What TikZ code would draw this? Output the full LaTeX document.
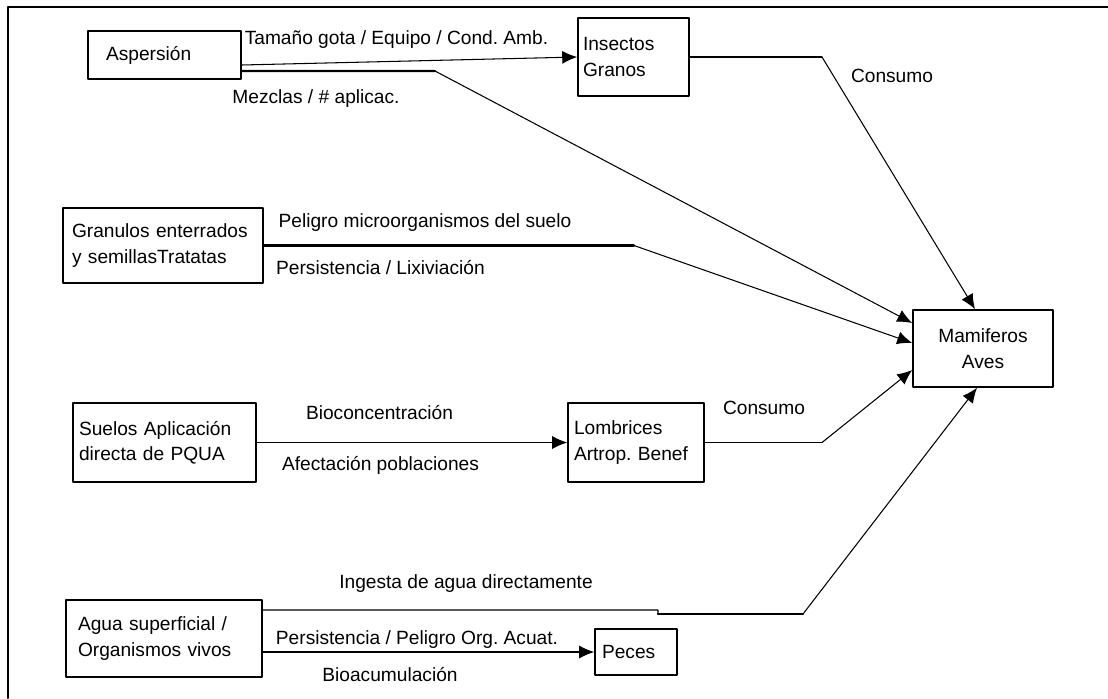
\documentclass[tikz,border=0pt]{standalone}
\usepackage{fontspec}
\setmainfont{Liberation Sans}
\usetikzlibrary{arrows.meta}
\frenchspacing

\begin{document}
\begin{tikzpicture}[line cap=round,line join=round,x=0.02cm,y=-0.02cm,
  caja/.style={draw,line width=0.9pt,inner ysep=0pt,align=left,font=\fontsize{10.9}{14.4}\selectfont},
  rotulo/.style={inner sep=0pt,font=\fontsize{10.9}{13}\selectfont},
  flecha/.style={line width=0.6pt,-{Latex[length=0.3cm,width=0.26cm]}},
  grueso/.style={line width=1.3pt}]
\useasboundingbox (0,0) rectangle (1108,698);
%\draw [help lines] (0,0) grid[step=50] (1108,698);
\draw [line width=1.1pt] (8,698) -- (8,7) -- (1108,7);
% cajas
\node[caja,minimum height=0.96cm,inner xsep=0.36cm,text width=2.34cm] (asp) at (164.5,55) {Aspersión};
\node[caja,minimum height=1.56cm,inner xsep=0.1cm,text width=2.02cm] (ins) at (633.5,57) {Insectos\\Granos};
\node[caja,minimum height=1.5cm,inner xsep=0.18cm,text width=3.64cm] (gra) at (163,245.5) {Granulos enterrados\\y semillasTratatas};
\node[caja,minimum height=1.58cm,inner xsep=0.12cm,text width=3.42cm] (sue) at (164.5,442.5) {Suelos Aplicación\\directa de PQUA};
\node[caja,minimum height=1.58cm,inner xsep=0.12cm,text width=2.48cm] (lom) at (636,442.5) {Lombrices\\Artrop. Benef};
\node[caja,minimum height=1.54cm,inner xsep=0.12cm,text width=2.56cm,align=center] (mam) at (983,348.5) {Mamiferos\\Aves};
\node[caja,minimum height=1.54cm,inner xsep=0.24cm,text width=3.44cm] (agu) at (164,638.5) {Agua superficial /\\Organismos vivos};
\node[caja,minimum height=0.92cm,inner xsep=0.14cm,text width=1.36cm] (pec) at (636,652) {Peces};
% quiebres
\coordinate (q1) at (435,71);
\coordinate (q2) at (822,57);
\coordinate (q3) at (634,245.5);
\coordinate (q4) at (822,442.5);
\coordinate (q5) at (658,610);
\coordinate (q6) at (658,614);
\coordinate (q7) at (803,614);
% conexiones
\draw [flecha] ([yshift=-0.2cm]asp.east) -- (ins.west);
\draw [grueso] ([yshift=-0.32cm]asp.east) -- (q1);
\draw [flecha] (q1) -- ([yshift=0.51cm]mam.west);
\draw [line width=0.6pt] (ins.east) -- (q2);
\draw [flecha] (q2) -- ([xshift=-0.16cm]mam.north);
\draw [grueso] (gra.east) -- (q3);
\draw [flecha] (q3) -- ([yshift=0.11cm]mam.west);
\draw [flecha] (sue.east) -- (lom.west);
\draw [line width=0.6pt] (lom.east) -- (q4);
\draw [flecha] (q4) -- ([yshift=-0.43cm]mam.west);
\draw [line width=0.6pt] ([yshift=0.57cm]agu.east) -- (q5) -- (q6);
\draw [grueso] (q6) -- (q7);
\draw [flecha] (q7) -- ([xshift=-0.12cm]mam.south);
\draw [flecha] (agu.east |- pec.west) -- (pec.west);
% rotulos
\node[rotulo] (tTam) at (396.5,40) {Tamaño gota / Equipo / Cond. Amb.};
\node[rotulo] (tMez) at (316,99) {Mezclas / \# aplicac.};
\node[rotulo] (tCon1) at (892,76) {Consumo};
\node[rotulo] (tPel) at (425,223) {Peligro microorganismos del suelo};
\node[rotulo] (tPer) at (380.5,268) {Persistencia / Lixiviación};
\node[rotulo] (tBio) at (379.5,413) {Bioconcentración};
\node[rotulo] (tAfe) at (380.5,465) {Afectación poblaciones};
\node[rotulo] (tCon2) at (764,408) {Consumo};
\node[rotulo] (tIng) at (466,584) {Ingesta de agua directamente};
\node[rotulo] (tPOA) at (417,640) {Persistencia / Peligro Org. Acuat.};
\node[rotulo] (tBac) at (390,675) {Bioacumulación};
\end{tikzpicture}
\end{document}
